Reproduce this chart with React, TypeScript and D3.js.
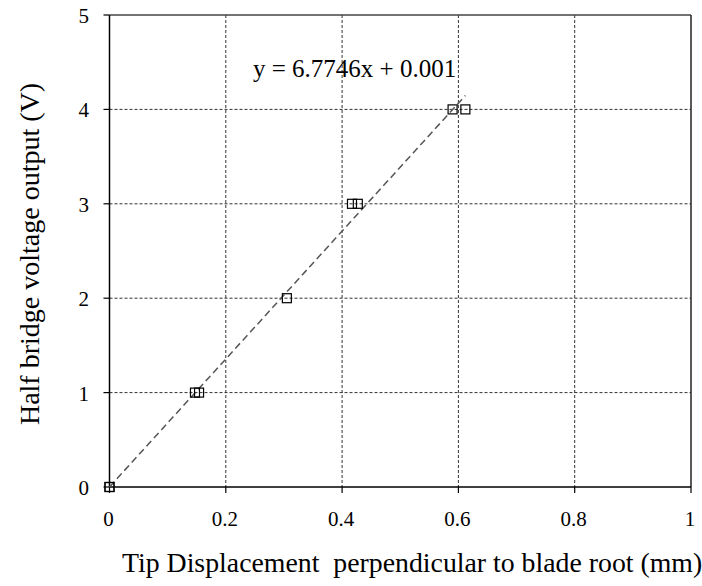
import React from "react";
import * as d3 from "d3";

const xs = [0, 0, 0.147, 0.154, 0.305, 0.417, 0.427, 0.59, 0.612];
const ys = [0, 0, 1, 1, 2, 3, 3, 4, 4];
const xTicks = [0, 0.2, 0.4, 0.6, 0.8, 1];
const yTicks = [0, 1, 2, 3, 4, 5];
const slope = 6.7746;
const intercept = 0.001;
const eqLabel = "y = 6.7746x + 0.001";

export default function App() {
  const W = 702, H = 586;
  const L = 109.5, R = 691, T = 15, B = 487;
  const x = d3.scaleLinear().domain([0, 1]).range([L, R]);
  const y = d3.scaleLinear().domain([0, 5]).range([B, T]);
  const font = "'Liberation Serif', 'Times New Roman', serif";
  const xMax = d3.max(xs) as number;
  const line = d3.line<number>().x((d) => x(d)).y((d) => y(slope * d + intercept));
  return (
    <svg width={W} height={H} style={{ position: "absolute", left: 0, top: 0 }}>
      <rect width={W} height={H} fill="white" />
      {xTicks.slice(1, -1).map((t) => (
        <line key={"gx" + t} x1={x(t)} x2={x(t)} y1={T} y2={B} stroke="#333" strokeWidth={1} strokeDasharray="3,2" />
      ))}
      {yTicks.slice(1, -1).map((t) => (
        <line key={"gy" + t} x1={L} x2={R} y1={y(t)} y2={y(t)} stroke="#333" strokeWidth={1} strokeDasharray="3,2" />
      ))}
      <line x1={L} x2={R} y1={T} y2={T} stroke="#444" strokeWidth={1.5} />
      <line x1={R} x2={R} y1={T} y2={B} stroke="#222" strokeWidth={1.5} />
      <line x1={L} x2={L} y1={T} y2={B} stroke="#000" strokeWidth={1.5} />
      <line x1={L} x2={R} y1={B} y2={B} stroke="#000" strokeWidth={1.5} />
      {yTicks.map((t) => (
        <g key={"ty" + t}>
          <line x1={L - 6} x2={L} y1={y(t)} y2={y(t)} stroke="#000" strokeWidth={1.2} />
          <text x={89} y={y(t) + 8} textAnchor="end" fontFamily={font} fontSize={21}>{t}</text>
        </g>
      ))}
      {xTicks.map((t) => (
        <g key={"tx" + t}>
          <line x1={x(t)} x2={x(t)} y1={B} y2={B + 6} stroke="#000" strokeWidth={1.2} />
          <text x={x(t) - 1} y={526} textAnchor="middle" fontFamily={font} fontSize={21}>{t}</text>
        </g>
      ))}
      <path d={line([0, xMax]) || ""} fill="none" stroke="#555" strokeWidth={1.5} strokeDasharray="7,4" />
      {xs.map((v, i) => (
        <rect key={"p" + i} x={x(v) - 4.5} y={y(ys[i]) - 4.5} width={9} height={9} fill="none" stroke="#000" strokeWidth={1.2} />
      ))}
      <text x={253} y={77} fontFamily={font} fontSize={25}>{eqLabel}</text>
      <text x={122} y={572} fontFamily={font} fontSize={27.8} style={{ whiteSpace: "pre" }}>
        Tip Displacement  perpendicular to blade root (mm)
      </text>
      <text transform={`translate(39, 254) rotate(-90)`} textAnchor="middle" fontFamily={font} fontSize={28}>
        Half bridge voltage output (V)
      </text>
    </svg>
  );
}
